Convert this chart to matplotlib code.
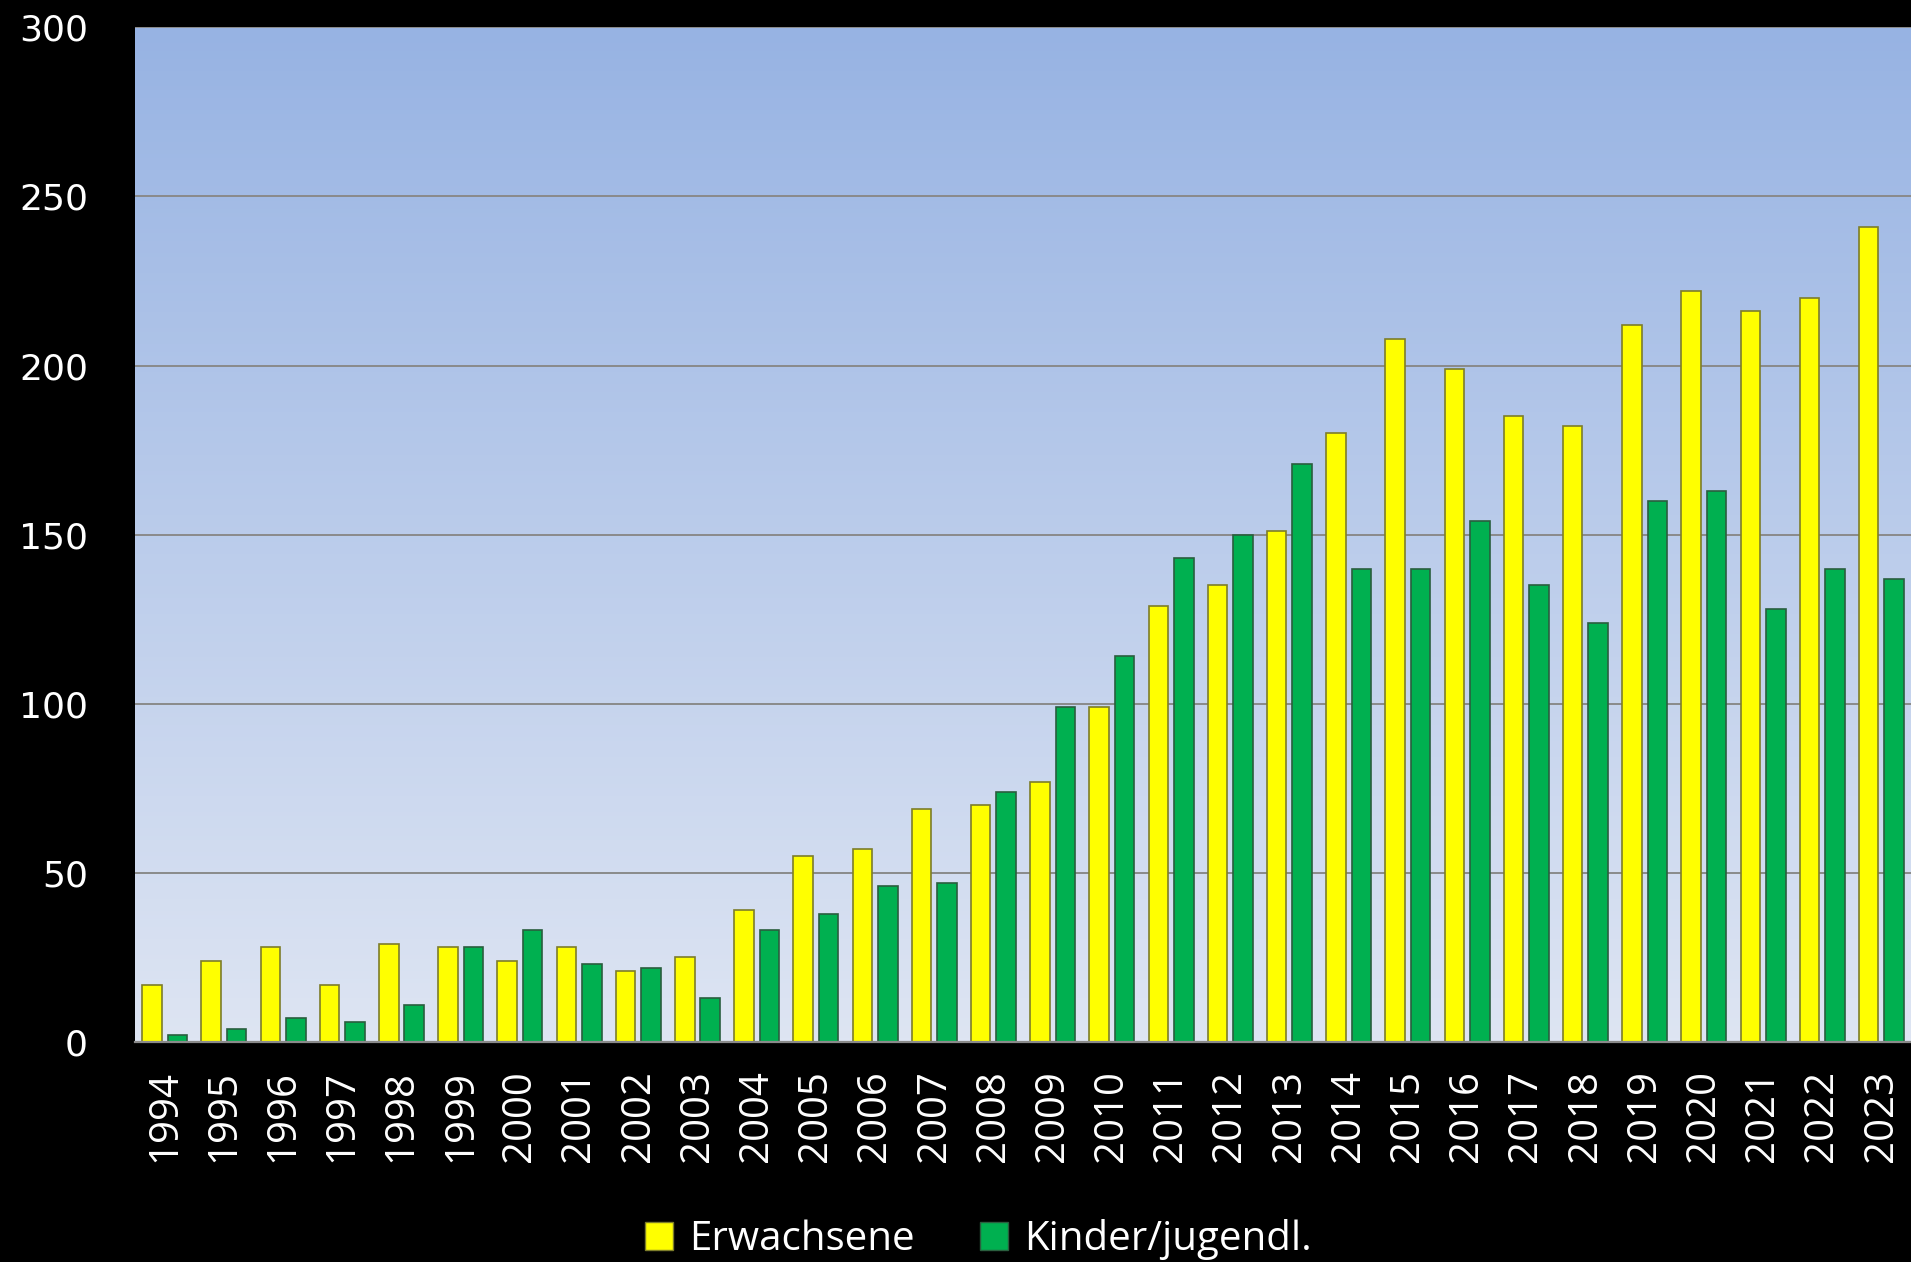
import matplotlib

matplotlib.use("Agg")
import matplotlib.pyplot as plt
import numpy as np
from matplotlib.colors import LinearSegmentedColormap
from matplotlib.patches import Patch

years = [str(y) for y in range(1994, 2024)]
erwachsene = [17, 24, 28, 17, 29, 28, 24, 28, 21, 25,
              39, 55, 57, 69, 70, 77, 99, 129, 135, 151,
              180, 208, 199, 185, 182, 212, 222, 216, 220, 241]
kinder = [2, 4, 7, 6, 11, 28, 33, 23, 22, 13,
          33, 38, 46, 47, 74, 99, 114, 143, 150, 171,
          140, 140, 154, 135, 124, 160, 163, 128, 140, 137]
y_ticks = [0, 50, 100, 150, 200, 250, 300]

fig = plt.figure(figsize=(19.11, 12.62), dpi=100, facecolor="black")
ax = fig.add_axes([0.0707, 0.1743, 0.9293, 0.804])

x = np.arange(len(years))
width = 0.33
offset = 0.215

# blue gradient background of the plot area
bg = LinearSegmentedColormap.from_list("bg", ["#dee5f3", "#97b3e3"])
ax.imshow(np.linspace(0, 1, 256).reshape(-1, 1), cmap=bg, aspect="auto",
          extent=(-0.5, len(years) - 0.5, 0, 300), origin="lower", zorder=0)

for yv in y_ticks[1:]:
    ax.axhline(yv, color="#8a8a8a", lw=1.4, zorder=1)

ax.bar(x - offset, erwachsene, width, color="#ffff00", edgecolor="#7d7d2a",
       linewidth=1.2, zorder=3)
ax.bar(x + offset, kinder, width, color="#00b050", edgecolor="#2a5e3e",
       linewidth=1.2, zorder=3)

ax.set_xlim(-0.5, len(years) - 0.5)
ax.set_ylim(0, 300)
ax.set_yticks(y_ticks)
ax.set_yticklabels([str(v) for v in y_ticks], color="white", fontsize=26,
                   family="DejaVu Sans")
ax.set_xticks(x)
ax.set_xticklabels(years, rotation=90, color="white", fontsize=29,
                   family="Open Sans")
ax.tick_params(axis="y", length=0, pad=34)
ax.tick_params(axis="x", length=0, pad=20)
for side in ["top", "right", "left"]:
    ax.spines[side].set_visible(False)
ax.spines["bottom"].set_color("#8a8a8a")
ax.spines["bottom"].set_linewidth(1.6)
ax.spines["bottom"].set_zorder(4)

handles = [Patch(facecolor="#ffff00", edgecolor="#7d7d2a", label="Erwachsene"),
           Patch(facecolor="#00b050", edgecolor="#2a5e3e", label="Kinder/jugendl.")]
leg = fig.legend(handles=handles, loc="lower center", bbox_to_anchor=(0.512, -0.027),
                 ncol=2, frameon=False, handlelength=0.7, handleheight=0.7,
                 handletextpad=0.4, columnspacing=1.6,
                 prop={"family": "Open Sans", "size": 29})
for t in leg.get_texts():
    t.set_color("white")

fig.savefig("out.png", dpi=100, facecolor="black")
